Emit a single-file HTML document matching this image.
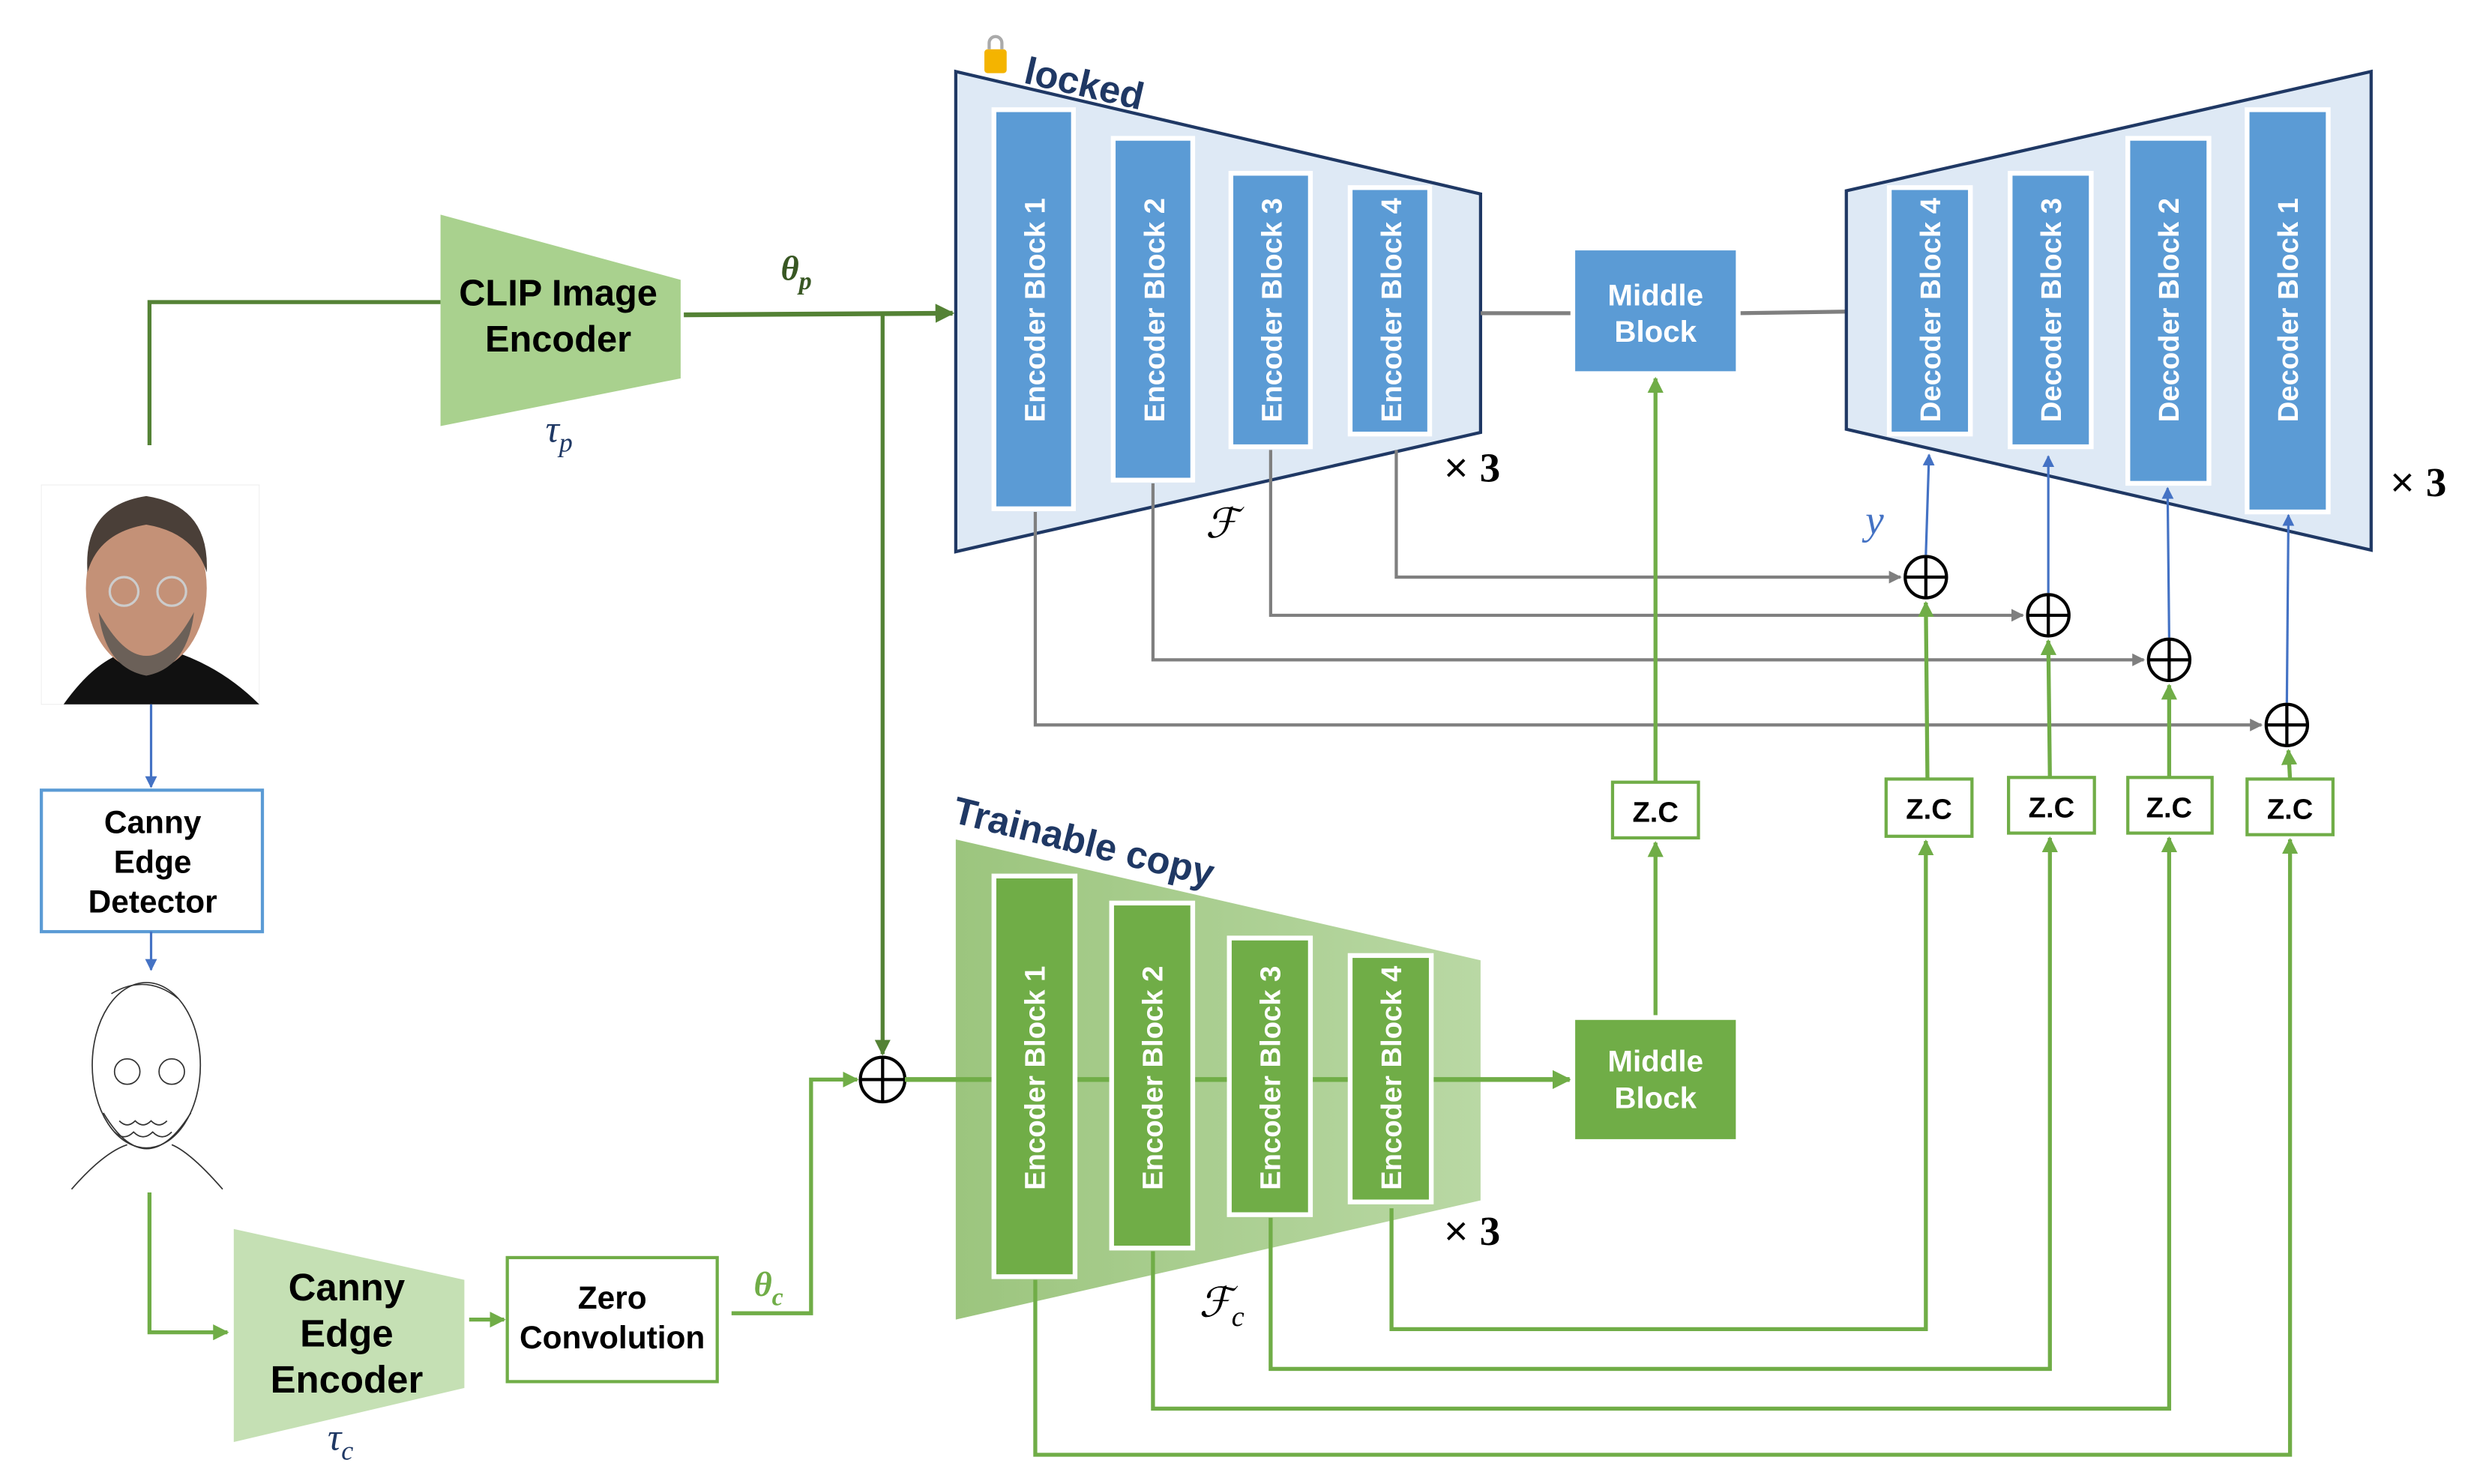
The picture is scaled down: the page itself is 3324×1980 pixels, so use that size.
<!DOCTYPE html>
<html><head><meta charset="utf-8"><style>
html,body{margin:0;padding:0;background:#fff;}
svg{display:block;}
text{font-family:"Liberation Sans",sans-serif;}
.b{font-weight:bold;}
.m{font-family:"Liberation Serif",serif;font-style:italic;}
</style></head><body>
<svg width="3324" height="1980" viewBox="0 0 1567 933.4" preserveAspectRatio="none" xmlns="http://www.w3.org/2000/svg">
<defs>
<marker id="ag" viewBox="0 0 10 10" refX="9" refY="5" markerWidth="4" markerHeight="4" orient="auto"><path d="M0,0L10,5L0,10z" fill="#70ad47"/></marker>
<marker id="adg" viewBox="0 0 10 10" refX="9" refY="5" markerWidth="4" markerHeight="4" orient="auto"><path d="M0,0L10,5L0,10z" fill="#548235"/></marker>
<marker id="ab" viewBox="0 0 10 10" refX="9" refY="5" markerWidth="5" markerHeight="5" orient="auto"><path d="M0,0L10,5L0,10z" fill="#4472c4"/></marker>
<marker id="ay" viewBox="0 0 10 10" refX="9" refY="5" markerWidth="4" markerHeight="4" orient="auto"><path d="M0,0L10,5L0,10z" fill="#7f7f7f"/></marker>
<linearGradient id="tg" x1="0" x2="1" y1="0" y2="0"><stop offset="0" stop-color="#9cc57e"/><stop offset="1" stop-color="#b9d8a4"/></linearGradient>
</defs>

<!-- face photo -->
<rect x="26" y="305" width="137" height="138" fill="#fff" stroke="#eee" stroke-width="0.5"/>
<path d="M40,443 Q60,415 80,410 L110,410 Q140,420 163,443 Z" fill="#111"/>
<ellipse cx="92" cy="370" rx="38" ry="52" fill="#c49177"/>
<path d="M55,360 Q52,318 92,312 Q132,318 130,360 Q122,335 92,330 Q62,335 55,360Z" fill="#4a3f38"/>
<path d="M62,385 Q92,440 122,385 Q118,420 92,425 Q66,420 62,385Z" fill="#6b6058"/>
<circle cx="78" cy="372" r="9" fill="none" stroke="#ccc" stroke-width="1.5"/>
<circle cx="108" cy="372" r="9" fill="none" stroke="#ccc" stroke-width="1.5"/>

<!-- edge sketch -->
<g fill="none" stroke="#333" stroke-width="0.8">
<ellipse cx="92" cy="670" rx="34" ry="52"/>
<path d="M70,625 Q92,612 112,628"/>
<circle cx="80" cy="674" r="8"/><circle cx="108" cy="674" r="8"/>
<path d="M65,700 Q92,745 120,700"/>
<path d="M45,748 Q65,725 80,720 M140,748 Q120,725 108,720"/>
<path d="M75,705 q5,5 10,0 q5,5 10,0 q5,5 10,0 M72,712 q6,6 12,0 q6,6 12,0 q6,6 12,0"/>
</g>

<!-- left connectors -->
<polyline points="94,280 94,190 277,190" fill="none" stroke="#548235" stroke-width="2.5"/>
<line x1="95" y1="443" x2="95" y2="495" stroke="#4472c4" stroke-width="1.5" marker-end="url(#ab)"/>
<rect x="26" y="497" width="139" height="89" fill="#fff" stroke="#5b9bd5" stroke-width="2"/>
<text class="b" font-size="20" text-anchor="middle" x="96" y="524">Canny</text>
<text class="b" font-size="20" text-anchor="middle" x="96" y="549">Edge</text>
<text class="b" font-size="20" text-anchor="middle" x="96" y="574">Detector</text>
<line x1="95" y1="586" x2="95" y2="610" stroke="#4472c4" stroke-width="1.5" marker-end="url(#ab)"/>
<polyline points="94,750 94,838 143,838" fill="none" stroke="#70ad47" stroke-width="2.5" marker-end="url(#ag)"/>

<!-- CLIP encoder -->
<polygon points="277,135 428,176 428,238 277,268" fill="#a9d18e"/>
<text class="b" font-size="23" text-anchor="middle" x="351" y="192">CLIP Image</text>
<text class="b" font-size="23" text-anchor="middle" x="351" y="221">Encoder</text>
<text class="m" font-size="24" fill="#1f3864" x="343" y="278">τ<tspan font-size="17" dy="6">p</tspan></text>
<text class="m b" font-size="22" fill="#385723" x="491" y="176">θ<tspan font-size="16" dy="6">p</tspan></text>
<line x1="430" y1="198" x2="599" y2="197" stroke="#548235" stroke-width="3" marker-end="url(#adg)"/>
<line x1="555" y1="198" x2="555" y2="663" stroke="#548235" stroke-width="2.5" marker-end="url(#adg)"/>

<!-- Canny edge encoder -->
<polygon points="147,773 292,805 292,873 147,907" fill="#c5e0b4"/>
<text class="b" font-size="24" text-anchor="middle" x="218" y="818">Canny</text>
<text class="b" font-size="24" text-anchor="middle" x="218" y="847">Edge</text>
<text class="b" font-size="24" text-anchor="middle" x="218" y="876">Encoder</text>
<text class="m" font-size="24" fill="#1f3864" x="206" y="912">τ<tspan font-size="17" dy="6">c</tspan></text>
<line x1="295" y1="830" x2="317" y2="830" stroke="#70ad47" stroke-width="2.5" marker-end="url(#ag)"/>
<rect x="319" y="791" width="132" height="78" fill="#fff" stroke="#70ad47" stroke-width="2"/>
<text class="b" font-size="20" text-anchor="middle" x="385" y="823">Zero</text>
<text class="b" font-size="20" text-anchor="middle" x="385" y="848">Convolution</text>
<text class="m b" font-size="22" fill="#70ad47" x="474" y="815">θ<tspan font-size="16" dy="6">c</tspan></text>
<polyline points="460,826 510,826 510,679 539,679" fill="none" stroke="#70ad47" stroke-width="2.5" marker-end="url(#ag)"/>

<!-- locked encoder -->
<polygon points="601,45 931,122 931,272 601,347" fill="#dee9f5" stroke="#1f3864" stroke-width="2"/>
<g>
<rect x="619" y="31" width="14" height="15" rx="2" fill="#f4b400"/>
<path d="M622,31 v-4 a4,4 0 0 1 8,0 v4" fill="none" stroke="#aaa" stroke-width="2"/>
<text class="b" font-size="24" fill="#1f3864" transform="translate(643,52) rotate(13)">locked</text>
</g>
<g fill="#5b9bd5" stroke="#fff" stroke-width="3">
<rect x="625" y="69" width="50" height="251"/>
<rect x="700" y="87" width="50" height="215"/>
<rect x="774" y="109" width="50" height="172"/>
<rect x="849" y="118" width="50" height="155"/>
</g>
<g fill="#fff" class="b" font-size="18" font-weight="bold" text-anchor="middle">
<text transform="translate(657,195) rotate(-90)">Encoder Block 1</text>
<text transform="translate(732,195) rotate(-90)">Encoder Block 2</text>
<text transform="translate(806,195) rotate(-90)">Encoder Block 3</text>
<text transform="translate(881,195) rotate(-90)">Encoder Block 4</text>
</g>
<text font-size="26" x="908" y="303">× <tspan class="b" font-family="Liberation Serif">3</tspan></text>
<text class="m" font-size="26" x="758" y="338">ℱ</text>

<line x1="931" y1="197" x2="989" y2="197" stroke="#7f7f7f" stroke-width="2.5"/>
<line x1="1093" y1="197" x2="1161" y2="196" stroke="#7f7f7f" stroke-width="2.5"/>
<rect x="989" y="156" width="104" height="79" fill="#5b9bd5" stroke="#fff" stroke-width="3"/>
<text class="b" font-size="19" fill="#fff" text-anchor="middle" x="1041" y="192">Middle</text>
<text class="b" font-size="19" fill="#fff" text-anchor="middle" x="1041" y="215">Block</text>

<!-- decoder -->
<polygon points="1161,120 1491,45 1491,346 1161,270" fill="#dee9f5" stroke="#1f3864" stroke-width="2"/>
<g fill="#5b9bd5" stroke="#fff" stroke-width="3">
<rect x="1188" y="118" width="51" height="155"/>
<rect x="1264" y="109" width="51" height="172"/>
<rect x="1338" y="87" width="51" height="217"/>
<rect x="1413" y="69" width="51" height="253"/>
</g>
<g fill="#fff" class="b" font-size="18" font-weight="bold" text-anchor="middle">
<text transform="translate(1220,195) rotate(-90)">Decoder Block 4</text>
<text transform="translate(1296,195) rotate(-90)">Decoder Block 3</text>
<text transform="translate(1370,195) rotate(-90)">Decoder Block 2</text>
<text transform="translate(1445,195) rotate(-90)">Decoder Block 1</text>
</g>
<text font-size="26" x="1503" y="312">× <tspan class="b" font-family="Liberation Serif">3</tspan></text>
<text class="m" font-size="26" fill="#4472c4" x="1173" y="336">y</text>

<!-- gray skip lines -->
<g fill="none" stroke="#7f7f7f" stroke-width="2">
<polyline points="878,283 878,363 1195,363" marker-end="url(#ay)"/>
<polyline points="799,283 799,387 1272,387" marker-end="url(#ay)"/>
<polyline points="725,304 725,415 1348,415" marker-end="url(#ay)"/>
<polyline points="651,322 651,456 1422,456" marker-end="url(#ay)"/>
</g>
<!-- blue up arrows -->
<g stroke="#4472c4" stroke-width="1.5">
<line x1="1211" y1="349" x2="1213" y2="286" marker-end="url(#ab)"/>
<line x1="1288" y1="373" x2="1288" y2="287" marker-end="url(#ab)"/>
<line x1="1364" y1="401" x2="1363" y2="307" marker-end="url(#ab)"/>
<line x1="1438" y1="442" x2="1439" y2="324" marker-end="url(#ab)"/>
</g>
<!-- green up to circles -->
<g stroke="#70ad47" stroke-width="2.5">
<line x1="1212" y1="490" x2="1211" y2="379" marker-end="url(#ag)"/>
<line x1="1289" y1="489" x2="1288" y2="403" marker-end="url(#ag)"/>
<line x1="1364" y1="489" x2="1364" y2="431" marker-end="url(#ag)"/>
<line x1="1440" y1="490" x2="1439" y2="472" marker-end="url(#ag)"/>
<line x1="1041" y1="492" x2="1041" y2="238" marker-end="url(#ag)"/>
<line x1="1041" y1="640" x2="1041" y2="530" marker-end="url(#ag)"/>
</g>
<!-- circles -->
<g fill="#fff" stroke="#000" stroke-width="2">
<circle cx="1211" cy="363" r="13"/><path d="M1198,363h26M1211,350v26"/>
<circle cx="1288" cy="387" r="13"/><path d="M1275,387h26M1288,374v26"/>
<circle cx="1364" cy="415" r="13"/><path d="M1351,415h26M1364,402v26"/>
<circle cx="1438" cy="456" r="13"/><path d="M1425,456h26M1438,443v26"/>
<circle cx="555" cy="679" r="14"/><path d="M541,679h28M555,665v28"/>
</g>
<!-- z.c boxes -->
<g fill="#fff" stroke="#70ad47" stroke-width="2">
<rect x="1014" y="492" width="54" height="35"/>
<rect x="1186" y="490" width="54" height="36"/>
<rect x="1263" y="489" width="54" height="35"/>
<rect x="1338" y="489" width="53" height="35"/>
<rect x="1413" y="490" width="54" height="35"/>
</g>
<g class="b" font-size="18" text-anchor="middle">
<text x="1041" y="517">Z.C</text>
<text x="1213" y="515">Z.C</text>
<text x="1290" y="514">Z.C</text>
<text x="1364" y="514">Z.C</text>
<text x="1440" y="515">Z.C</text>
</g>

<!-- trainable copy -->
<polygon points="601,528 931,604 931,755 601,830" fill="url(#tg)"/>
<text class="b" font-size="24" fill="#1f3864" transform="translate(598,517) rotate(14)">Trainable copy</text>
<line x1="569" y1="679" x2="987" y2="679" stroke="#70ad47" stroke-width="3" marker-end="url(#ag)"/>
<g fill="#70ad47" stroke="#fff" stroke-width="3">
<rect x="625" y="551" width="51" height="252"/>
<rect x="699" y="568" width="51" height="217"/>
<rect x="773" y="590" width="51" height="174"/>
<rect x="849" y="601" width="51" height="155"/>
</g>
<g fill="#fff" class="b" font-size="18" font-weight="bold" text-anchor="middle">
<text transform="translate(657,678) rotate(-90)">Encoder Block 1</text>
<text transform="translate(731,678) rotate(-90)">Encoder Block 2</text>
<text transform="translate(805,678) rotate(-90)">Encoder Block 3</text>
<text transform="translate(881,678) rotate(-90)">Encoder Block 4</text>
</g>
<rect x="989" y="640" width="104" height="78" fill="#70ad47" stroke="#fff" stroke-width="3"/>
<text class="b" font-size="19" fill="#fff" text-anchor="middle" x="1041" y="674">Middle</text>
<text class="b" font-size="19" fill="#fff" text-anchor="middle" x="1041" y="697">Block</text>
<text font-size="26" x="908" y="783">× <tspan class="b" font-family="Liberation Serif">3</tspan></text>
<text class="m" font-size="26" x="754" y="828">ℱ<tspan font-size="18" dy="6">c</tspan></text>

<g fill="none" stroke="#70ad47" stroke-width="2.5">
<polyline points="875,760 875,836 1211,836 1211,529" marker-end="url(#ag)"/>
<polyline points="799,766 799,861 1289,861 1289,527" marker-end="url(#ag)"/>
<polyline points="725,787 725,886 1364,886 1364,527" marker-end="url(#ag)"/>
<polyline points="651,805 651,915 1440,915 1440,528" marker-end="url(#ag)"/>
</g>
</svg>
</body></html>
